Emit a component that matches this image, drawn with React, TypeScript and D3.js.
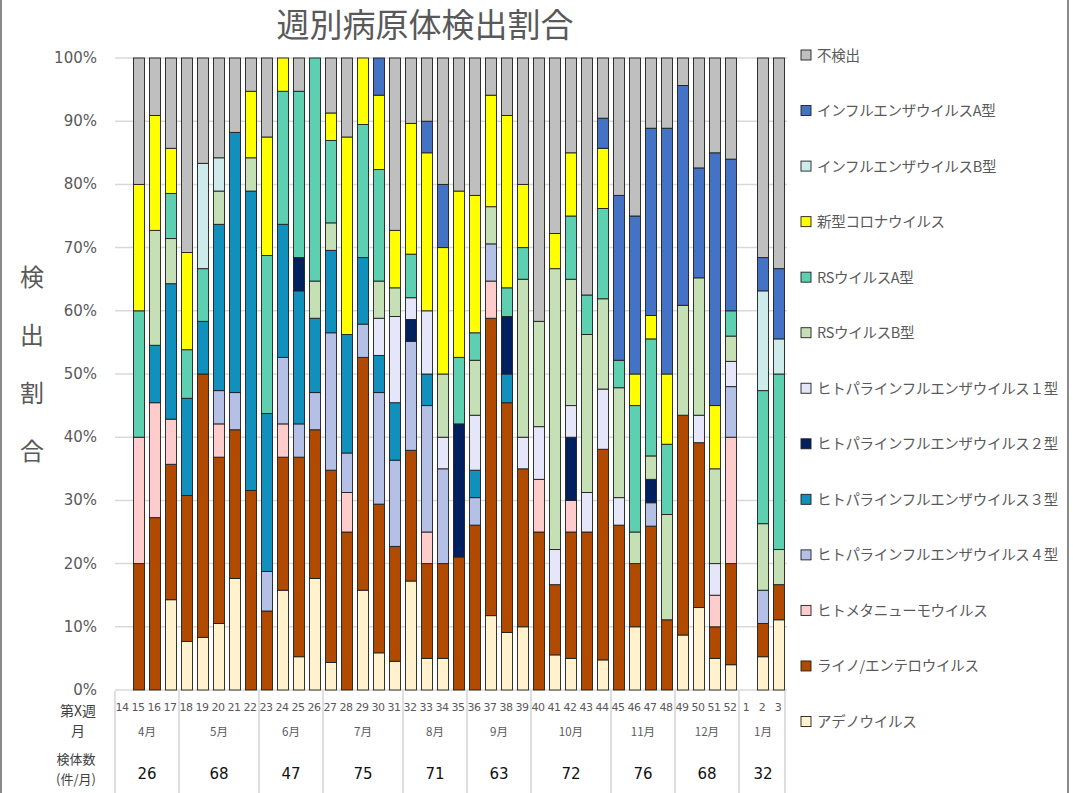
import React from 'react';
import * as d3 from 'd3';

const W = 1073;
const H = 793;

// 週 (x軸)。14週と1週は検出なし
const weeks = [
  '14', '15', '16', '17', '18', '19', '20', '21', '22', '23', '24', '25', '26', '27', '28', '29', '30',
  '31', '32', '33', '34', '35', '36', '37', '38', '39', '40', '41', '42', '43', '44', '45', '46', '47',
  '48', '49', '50', '51', '52', '1', '2', '3',
];

// 月ごとの週数と検体数
const months = ['4月', '5月', '6月', '7月', '8月', '9月', '10月', '11月', '12月', '1月'];
const monthWeeks = [4, 5, 4, 5, 4, 4, 5, 4, 4, 3];
const monthCounts = [26, 68, 47, 75, 71, 63, 72, 76, 68, 32];

// 検出件数 (週ごと)
const adeno = [0, 0,0,2,1,1,2,3,0,0,3, 1,3,1,0,3,1,1,5,1,1, 0,0,2,2,2,0,1,1,0,1, 0,2,0,0,2,3,1,1, 0, 1,2];
const rhino = [0, 1,3,3,3,5,5,4,6,2,4, 6,4,7,4,7,4,4,6,3,3, 4,6,8,8,5,3,2,4,4,7, 6,2,7,2,8,6,1,4, 0, 1,1];
const hmpv = [0, 1,2,1,0,0,1,0,0,0,1, 0,0,0,1,0,0,0,0,1,0, 0,0,1,0,0,1,0,1,0,0, 0,0,0,0,0,0,1,5, 0, 0,0];
const piv4 = [0, 0,0,0,0,0,1,1,0,1,2, 1,1,5,1,1,3,3,5,4,3, 0,1,1,0,0,0,0,0,0,0, 0,0,1,0,0,0,0,2, 0, 1,0];
const piv3 = [0, 0,1,3,2,1,5,7,9,4,4, 4,2,3,3,2,1,2,0,1,0, 0,1,0,1,0,0,0,0,0,0, 0,0,0,0,0,0,0,0, 0, 0,0];
const piv2 = [0, 0,0,0,0,0,0,0,0,0,0, 1,0,0,0,0,0,0,1,0,0, 4,0,0,2,0,0,0,2,0,0, 0,0,1,0,0,0,0,0, 0, 0,0];
const piv1 = [0, 0,0,0,0,0,0,0,0,0,0, 0,0,0,0,0,1,3,1,2,1, 0,2,0,0,1,1,1,1,1,2, 1,0,0,0,0,1,1,1, 0, 0,0];
const rsb = [0, 0,2,1,0,0,1,0,1,0,0, 0,1,1,0,0,1,1,0,0,2, 0,2,1,0,5,2,8,4,4,3, 4,1,1,3,4,5,3,1, 0, 2,1];
const rsa = [0, 1,0,1,1,1,0,0,0,4,4, 5,6,3,0,4,3,0,2,0,0, 2,1,0,1,1,0,0,2,1,3, 1,4,5,2,0,0,0,1, 0, 4,5];
const covid = [0, 1,2,1,2,0,0,0,2,3,1, 0,0,1,5,2,2,2,6,5,4, 5,5,3,6,2,0,1,2,0,2, 0,1,1,2,0,0,2,0, 0, 0,0];
const infB = [0, 0,0,0,0,2,1,0,0,0,0, 0,0,0,0,0,0,0,0,0,0, 0,0,0,0,0,0,0,0,0,0, 0,0,0,0,0,0,0,0, 0, 3,1];
const infA = [0, 0,0,0,0,0,0,0,0,0,0, 0,0,0,0,0,1,0,0,1,2, 0,0,0,0,0,0,0,0,0,1, 6,5,8,7,8,4,8,6, 0, 1,2];
const neg = [0, 1,1,2,4,2,3,2,1,2,0, 1,0,2,2,0,0,6,3,2,4, 4,5,1,2,4,5,5,3,6,2, 5,5,3,2,1,4,3,4, 0, 6,6];

// 下から積み上げ順
const series = [
  { key: 'adeno', name: 'アデノウイルス', color: '#fff2cc', values: adeno },
  { key: 'rhino', name: 'ライノ/エンテロウイルス', color: '#b04a00', values: rhino },
  { key: 'hmpv', name: 'ヒトメタニューモウイルス', color: '#ffcccc', values: hmpv },
  { key: 'piv4', name: 'ヒトパラインフルエンザウイルス４型', color: '#b4c0e6', values: piv4 },
  { key: 'piv3', name: 'ヒトパラインフルエンザウイルス３型', color: '#1190bd', values: piv3 },
  { key: 'piv2', name: 'ヒトパラインフルエンザウイルス２型', color: '#002060', values: piv2 },
  { key: 'piv1', name: 'ヒトパラインフルエンザウイルス１型', color: '#e6e6fb', values: piv1 },
  { key: 'rsb', name: 'RSウイルスB型', color: '#c5e0b4', values: rsb },
  { key: 'rsa', name: 'RSウイルスA型', color: '#5ecfb0', values: rsa },
  { key: 'covid', name: '新型コロナウイルス', color: '#ffff00', values: covid },
  { key: 'infB', name: 'インフルエンザウイルスB型', color: '#ccebea', values: infB },
  { key: 'infA', name: 'インフルエンザウイルスA型', color: '#4472c4', values: infA },
  { key: 'neg', name: '不検出', color: '#bfbfbf', values: neg },
];

const yTicks = [0, 0.1, 0.2, 0.3, 0.4, 0.5, 0.6, 0.7, 0.8, 0.9, 1];

const FONT = '"DejaVu Sans", Verdana, sans-serif';
const JP = '"Noto Sans CJK JP", "Noto Sans", sans-serif';
const GRAY = '#595959';

export default function App() {
  const x = d3.scaleBand().domain(weeks).range([115, 787]).paddingInner(0.31).paddingOuter(0.155);
  const y = d3.scaleLinear().domain([0, 1]).range([690, 58]);

  const rows = weeks.map((w, i) => {
    const r: any = { week: w };
    series.forEach(s => { r[s.key] = s.values[i]; });
    return r;
  });
  const stacked = d3.stack().keys(series.map(s => s.key)).offset(d3.stackOffsetExpand)(rows);

  const gap = (x.step() - x.bandwidth()) / 2;
  // 月の区切り
  let start = 0;
  const monthCells = months.map((m, i) => {
    const first = weeks[start];
    const last = weeks[start + monthWeeks[i] - 1];
    start += monthWeeks[i];
    const x0 = (x(first) as number) - gap;
    const x1 = (x(last) as number) + x.bandwidth() + gap;
    return { m, x0, x1, count: monthCounts[i] };
  });

  const legendY = d3.scalePoint().domain(series.map(s => s.key).reverse()).range([55, 721.5]);

  return (
    <svg width={W} height={H} style={{ position: 'absolute', left: 0, top: 0, background: '#fff' }}>
      <rect x={0} y={0} width={W} height={H} fill="#fff" />
      <line x1={1} x2={1} y1={0} y2={H} stroke="#8a8a8a" strokeWidth={2} />
      <line x1={1068} x2={1068} y1={0} y2={H} stroke="#8a8a8a" strokeWidth={2} />

      <text x={425} y={37} textAnchor="middle" fontFamily={JP} fontSize={33} fill={GRAY}>週別病原体検出割合</text>

      {/* グリッドと目盛 */}
      {yTicks.map(t => (
        <g key={t}>
          <line x1={115} x2={787} y1={y(t)} y2={y(t)} stroke="#d9d9d9" strokeWidth={1.5} />
          <text x={97} y={y(t) + 5} textAnchor="end" fontFamily={FONT} fontSize={15} fill={GRAY}>
            {d3.format('.0%')(t)}
          </text>
        </g>
      ))}

      {['検', '出', '割', '合'].map((c, i) => (
        <text key={c} x={32} y={286 + i * 58} textAnchor="middle" fontFamily={JP} fontSize={24} fill={GRAY}>{c}</text>
      ))}

      {/* 積み上げ棒 */}
      {stacked.map((layer, li) => (
        <g key={layer.key} fill={series[li].color}>
          {layer.map((d: any, i: number) =>
            d[1] - d[0] > 0 ? (
              <rect
                key={i}
                x={x(weeks[i])}
                y={y(d[1])}
                width={x.bandwidth()}
                height={y(d[0]) - y(d[1])}
                stroke="#1f1f1f"
                strokeWidth={0.9}
              />
            ) : null
          )}
        </g>
      ))}

      {/* 表 */}
      {weeks.map(w => (
        <text key={w} x={(x(w) as number) + x.bandwidth() / 2 - 1} y={711} textAnchor="middle" fontFamily={FONT} fontSize={11} letterSpacing={-0.4} fill={GRAY}>{w}</text>
      ))}
      {monthCells.map((c, i) => (
        <g key={c.m}>
          <line x1={c.x0} x2={c.x0} y1={691} y2={H} stroke="#d4d4d4" strokeWidth={1.5} />
          {i === monthCells.length - 1 && <line x1={c.x1 - 2} x2={c.x1 - 2} y1={691} y2={H} stroke="#d4d4d4" strokeWidth={1.5} />}
          <text x={(c.x0 + c.x1) / 2} y={736} textAnchor="middle" fontFamily={JP} fontSize={11.5} fill={GRAY}>{c.m}</text>
          <text x={(c.x0 + c.x1) / 2} y={779} textAnchor="middle" fontFamily={FONT} fontSize={15} fill="#111">{c.count}</text>
        </g>
      ))}
      <text x={78} y={716} textAnchor="middle" fontFamily={JP} fontSize={14} fill="#404040">第X週</text>
      <text x={78} y={736} textAnchor="middle" fontFamily={JP} fontSize={14} fill="#404040">月</text>
      <text x={76} y={764} textAnchor="middle" fontFamily={JP} fontSize={13} fill="#404040">検体数</text>
      <text x={76} y={784} textAnchor="middle" fontFamily={JP} fontSize={13} fill="#404040">(件/月)</text>

      {/* 凡例 */}
      {series.map(s => (
        <g key={s.key} transform={`translate(801,${legendY(s.key)})`}>
          <rect x={0} y={-5} width={10} height={10} fill={s.color} stroke="#1f1f1f" strokeWidth={0.9} />
          <text x={16} y={5.5} fontFamily={JP} fontSize={14.5} fill={GRAY} letterSpacing={-0.3}>{s.name}</text>
        </g>
      ))}
    </svg>
  );
}
